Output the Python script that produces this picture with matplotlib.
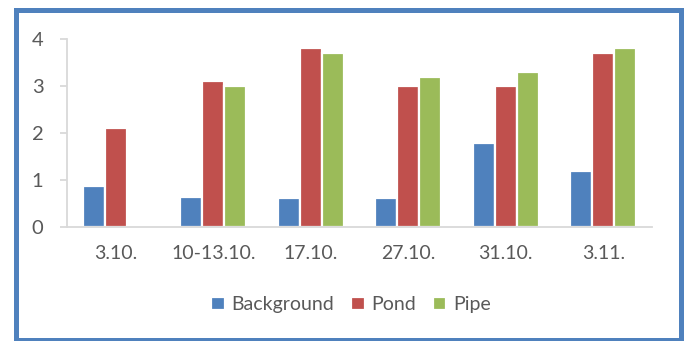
import matplotlib
matplotlib.use("Agg")
import matplotlib.pyplot as plt
import numpy as np
from matplotlib.patches import Rectangle

categories = ["3.10.", "10-13.10.", "17.10.", "27.10.", "31.10.", "3.11."]
background = [0.88, 0.64, 0.61, 0.61, 1.79, 1.19]
pond = [2.1, 3.1, 3.8, 3.0, 3.0, 3.7]
pipe = [np.nan, 3.0, 3.7, 3.2, 3.3, 3.8]
series_names = ["Background", "Pond", "Pipe"]
colors = ["#4F81BD", "#C0504D", "#9BBB59"]
yticks = [0, 1, 2, 3, 4]

plt.rcParams['font.family'] = ['Lato', 'DejaVu Sans']

fig = plt.figure(figsize=(6.87, 3.41), dpi=100)
ax = fig.add_axes([67/687, 1-227/341, (652-67)/687, (227-39)/341])

x = np.arange(len(categories))
slot = 0.226
for i, (vals, name, c) in enumerate(zip([background, pond, pipe], series_names, colors)):
    ax.bar(x + (i-1)*slot, vals, width=slot, color=c, edgecolor='white', linewidth=1.6, label=name)

ax.set_xlim(-0.5, len(categories)-0.5)
ax.set_ylim(0, 4)
ax.set_yticks(yticks)
ax.set_xticks(x)
ax.set_xticklabels(categories)
for s in ['top', 'right']:
    ax.spines[s].set_visible(False)
for s in ['left', 'bottom']:
    ax.spines[s].set_color('#D9D9D9')
    ax.spines[s].set_linewidth(1.3)
ax.tick_params(axis='x', length=0, pad=13, labelsize=14, labelcolor='#595959')
ax.tick_params(axis='y', length=5, width=1.3, color='#D9D9D9', pad=12, labelsize=14.5, labelcolor='#595959')

leg = fig.legend(loc='center', bbox_to_anchor=(0.511, 0.106), ncol=3, frameon=False,
                 fontsize=14, handlelength=0.7, handleheight=0.7, handletextpad=0.35,
                 columnspacing=0.85)
for t in leg.get_texts():
    t.set_color('#595959')

fig.patches.append(Rectangle((15.5/687, 1/341), (680.5-15.5)/687, 330.5/341,
                             transform=fig.transFigure, fill=False,
                             edgecolor='#4F81BD', linewidth=3.6, zorder=10))

fig.savefig("out.png", dpi=100)
